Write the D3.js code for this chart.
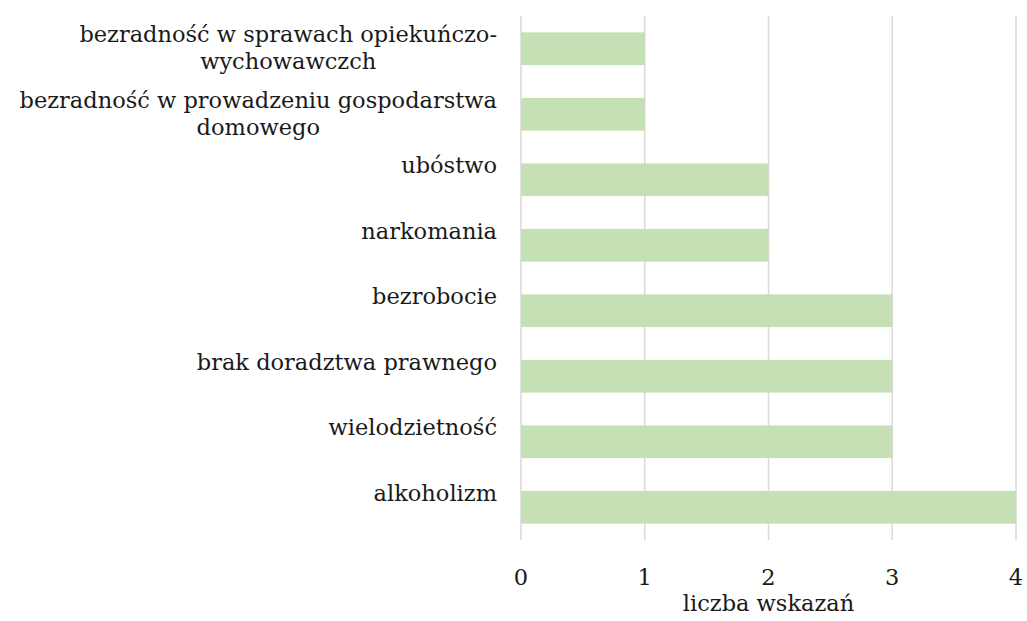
<!DOCTYPE html>
<html>
<head>
<meta charset="utf-8">
<script src="https://cdn.jsdelivr.net/npm/d3@7"></script>
<style>
  body { margin: 0; background: #fff; }
  text { font-family: Georgia, "DejaVu Serif", "Liberation Serif", serif; fill: #1a1a1a; }
</style>
</head>
<body>
<svg id="chart" width="1027" height="621"></svg>
<script>
// categories top to bottom, each label split into its lines
const categories = [
    ["bezradność w sprawach opiekuńczo-", "wychowawczch"],
    ["bezradność w prowadzeniu gospodarstwa", "domowego"],
    ["ubóstwo"],
    ["narkomania"],
    ["bezrobocie"],
    ["brak doradztwa prawnego"],
    ["wielodzietność"],
    ["alkoholizm"]
];
const values = [1, 1, 2, 2, 3, 3, 3, 4];
const xTicks = [0, 1, 2, 3, 4];
const xTitle = "liczba wskazań";

const svg = d3.select("#chart");
const margin = { top: 16, right: 11, bottom: 81, left: 521 };
const width = 1027 - margin.left - margin.right;
const height = 621 - margin.top - margin.bottom;
const fontSize = 22.5;
const labelGap = 24;

const g = svg.append("g").attr("transform", `translate(${margin.left},${margin.top})`);

const x = d3.scaleLinear().domain([0, 4]).range([0, width]);
const y = d3.scaleBand()
    .domain(d3.range(categories.length))
    .range([0, height])
    .paddingInner(0.5)
    .paddingOuter(0.25);

// gridlines
g.selectAll("line.grid")
    .data(xTicks)
    .join("line")
    .attr("class", "grid")
    .attr("x1", d => x(d)).attr("x2", d => x(d))
    .attr("y1", 0).attr("y2", height)
    .attr("stroke", "#d9d9d9")
    .attr("stroke-width", 1.5);

// bars
g.selectAll("rect.bar")
    .data(values)
    .join("rect")
    .attr("class", "bar")
    .attr("x", x(0))
    .attr("y", (d, i) => y(i))
    .attr("width", d => x(d) - x(0))
    .attr("height", y.bandwidth())
    .attr("fill", "#c5e0b4");

// category labels: block right-aligned to the axis, lines centred inside the block
const labels = g.selectAll("text.cat")
    .data(categories)
    .join("text")
    .attr("class", "cat")
    .attr("text-anchor", "middle")
    .attr("font-size", fontSize)
    .attr("y", (d, i) => y(i) + 10);

labels.selectAll("tspan")
    .data(d => d)
    .join("tspan")
    .attr("dy", (d, i) => i === 0 ? 0 : 27)
    .text(d => d);

labels.each(function() {
    const spans = d3.select(this).selectAll("tspan");
    const maxW = d3.max(spans.nodes(), n => n.getComputedTextLength());
    spans.attr("x", -labelGap - maxW / 2);
});

// x axis tick labels
g.selectAll("text.tick")
    .data(xTicks)
    .join("text")
    .attr("class", "tick")
    .attr("text-anchor", "middle")
    .attr("font-size", fontSize)
    .attr("x", d => x(d))
    .attr("y", height + 45)
    .text(d => d);

g.append("text")
    .attr("text-anchor", "middle")
    .attr("font-size", fontSize)
    .attr("x", width / 2)
    .attr("y", height + 71)
    .text(xTitle);
</script>
</body>
</html>
